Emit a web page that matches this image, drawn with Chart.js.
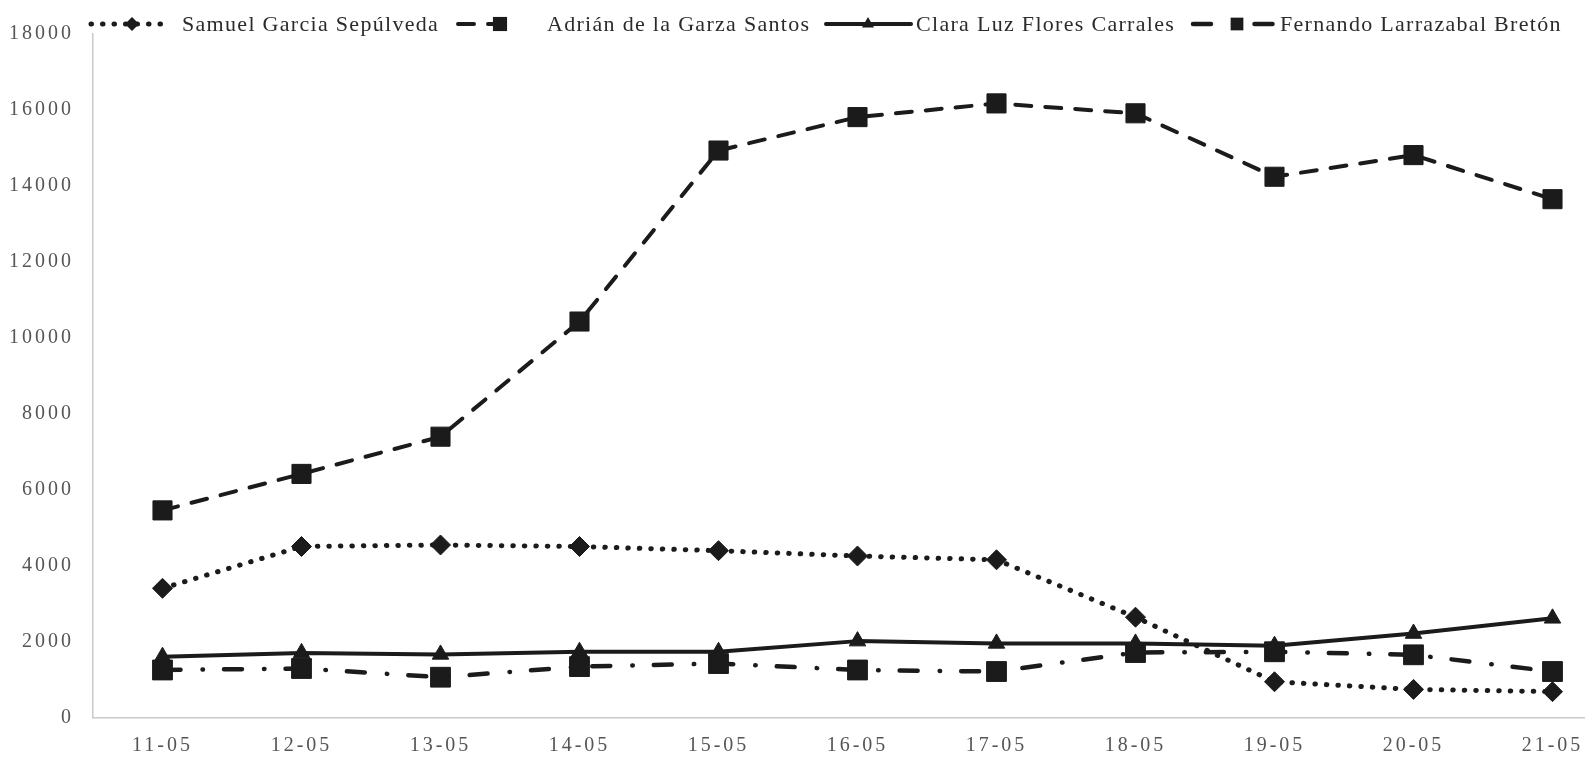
<!DOCTYPE html>
<html>
<head>
<meta charset="utf-8">
<script src="https://cdn.jsdelivr.net/npm/chart.js@4.4.1/dist/chart.umd.min.js"></script>
<style>
  html, body { margin:0; padding:0; background:#fff; overflow:hidden; }
  #wrap { position:relative; width:1640px; height:771px; }
</style>
</head>
<body>
<div id="wrap"><canvas id="votesChart"></canvas></div>
<script>
// dates (dd-mm)
var labels = ['11-05','12-05','13-05','14-05','15-05','16-05','17-05','18-05','19-05','20-05','21-05'];

// one array per candidate
var samuel   = [3400, 4500, 4540, 4500, 4390, 4250, 4150, 2640, 940, 740, 680];
var adrian   = [5450, 6410, 7390, 10420, 14920, 15800, 16160, 15900, 14230, 14800, 13640];
var clara    = [1600, 1700, 1660, 1730, 1730, 2010, 1950, 1950, 1890, 2210, 2610];
var fernando = [1250, 1290, 1060, 1340, 1420, 1250, 1210, 1710, 1730, 1650, 1210];

var names = ['Samuel Garcia Sepúlveda','Adrián de la Garza Santos','Clara Luz Flores Carrales','Fernando Larrazabal Bretón'];
var yTicks = { min: 0, max: 18000, step: 2000 };

(function(){
  var ink = '#1b1b1b';
  var font = "'Liberation Serif', 'Times New Roman', serif";

  function series(label, data, dash, style, radius, width){
    return {
      label: label, data: data,
      borderColor: ink, backgroundColor: ink,
      borderWidth: width || 4, borderDash: dash, borderCapStyle: 'round', borderJoinStyle: 'round',
      tension: 0, fill: false,
      pointStyle: style, pointRadius: radius, pointHoverRadius: radius,
      pointBackgroundColor: ink, pointBorderColor: ink, pointBorderWidth: 1
    };
  }

  // legend drawn by hand so the line sample shows dash + marker like the original
  var legendSpots = [
    { from: 91,  to: 161,  mark: 132,  text: 182,  r: 7 },
    { from: 458, to: 518,  mark: 500,  text: 547,  r: 10 },
    { from: 826, to: 911,  mark: 868,  text: 916,  r: 7 },
    { from: 1193, to: 1275, mark: 1237, text: 1280, r: 9 }
  ];

  var legendPlugin = {
    id: 'lineLegend',
    beforeDraw: function(chart){
      chart.ctx.letterSpacing = '3px';
    },
    afterDraw: function(chart){
      var ctx = chart.ctx, y = 24;
      chart.data.datasets.forEach(function(ds, i){
        var s = legendSpots[i];
        ctx.save();
        ctx.strokeStyle = ds.borderColor;
        ctx.lineWidth = ds.borderWidth;
        ctx.lineCap = 'round';
        ctx.setLineDash(ds.borderDash || []);
        ctx.beginPath();
        ctx.moveTo(s.from, y);
        ctx.lineTo(s.to, y);
        ctx.stroke();
        ctx.setLineDash([]);
        ctx.fillStyle = ds.backgroundColor;
        Chart.helpers.drawPoint(ctx, { pointStyle: ds.pointStyle, radius: s.r, rotation: 0, borderWidth: 0 }, s.mark, y);
        ctx.letterSpacing = '1.3px';
        ctx.font = '22px ' + font;
        ctx.fillStyle = '#2b2b2b';
        ctx.textBaseline = 'middle';
        ctx.textAlign = 'left';
        ctx.fillText(ds.label, s.text, y + 1);
        ctx.restore();
      });
    }
  };

  document.addEventListener('DOMContentLoaded', function(){
    if(window.Chart === undefined) return;
    var ctx = document.getElementById('votesChart').getContext('2d');
    new Chart(ctx, {
      type: 'line',
      data: {
        labels: labels,
        datasets: [
          series(names[0], samuel,   [0.5, 11],        'rectRot',  10, 5),
          series(names[1], adrian,   [16, 14],         'rect',     13.5),
          series(names[2], clara,    [],               'triangle', 9.5),
          series(names[3], fernando, [18, 22, 0.5, 21], 'rect',    14, 4.5)
        ]
      },
      options: {
        responsive: true, maintainAspectRatio: false, animation: false,
        layout: { padding: { top: 33.5, right: 18, bottom: 0, left: 0 } },
        plugins: { legend: { display: false }, tooltip: { enabled: false } },
        scales: {
          x: {
            offset: true,
            grid: { display: false, drawTicks: false },
            border: { display: true, color: '#c9c9c9', width: 1.5 },
            ticks: { color: '#555', font: { family: font, size: 20 }, padding: 16, maxRotation: 0, autoSkip: false },
            afterFit: function(scale){ scale.height = 53.5; }
          },
          y: {
            min: yTicks.min, max: yTicks.max,
            grid: { display: false, drawTicks: false },
            border: { display: true, color: '#c9c9c9', width: 1.5 },
            ticks: {
              stepSize: yTicks.step, color: '#555', font: { family: font, size: 20 }, padding: 19,
              callback: function(v){ return String(v); }
            },
            afterFit: function(scale){ scale.width = 93; }
          }
        }
      },
      plugins: [legendPlugin]
    });
  });
})();
</script>
</body>
</html>
